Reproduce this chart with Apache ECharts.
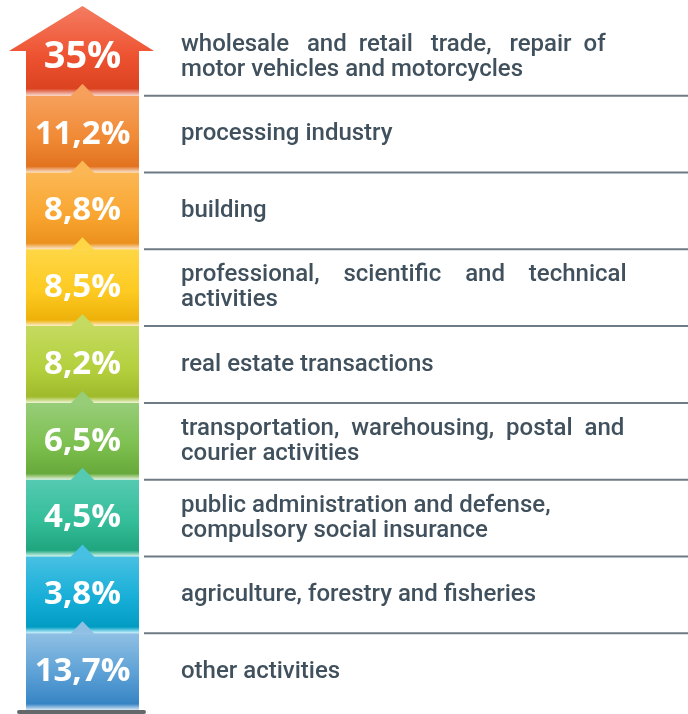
<!DOCTYPE html>
<html>
<head>
<meta charset="utf-8">
<script src="https://cdn.jsdelivr.net/npm/echarts@6/dist/echarts.min.js"></script>
<style>
  html, body { margin: 0; padding: 0; background: #fff; }
  #chart { width: 688px; height: 714px; }
</style>
</head>
<body>
<div id="chart"></div>
<script>
// sectors, top to bottom
const categories = [
  'wholesale and retail trade, repair of\nmotor vehicles and motorcycles',
  'processing industry',
  'building',
  'professional, scientific and technical\nactivities',
  'real estate transactions',
  'transportation, warehousing, postal and\ncourier activities',
  'public administration and defense,\ncompulsory social insurance',
  'agriculture, forestry and fisheries',
  'other activities'
]
const shares = [35, 11.2, 8.8, 8.5, 8.2, 6.5, 4.5, 3.8, 13.7]

// colours per block: [top, middle, bottom]
const palette = [
  ['#f47c62', '#ee5331', '#db4320'],
  ['#f6a05c', '#f08a35', '#e2731f'],
  ['#fbb754', '#f9a631', '#eb911d'],
  ['#fed646', '#fdca21', '#eeb10a'],
  ['#c4da60', '#b4d03d', '#9fbb2c'],
  ['#97cd79', '#7dc04f', '#67a93a'],
  ['#55cab2', '#33bd98', '#20a57e'],
  ['#48c0e3', '#16aed7', '#029cc3'],
  ['#8fc0e4', '#5a9fd5', '#3784c4']
]
// width the first line gets stretched to (justified text), null = left aligned
const justifyTo = [426, null, null, 446, null, 445, null, null, null]

const labelFont = '500 24px Roboto'
const colW = 113

// stretch a line by padding its word gaps with spaces
const measureCtx = document.createElement('canvas').getContext('2d')
function justify(text, target) {
  if (!target) return text
  const lines = text.split('\n')
  measureCtx.font = labelFont
  const words = lines[0].split(' ')
  const gaps = words.length - 1
  const spaceW = measureCtx.measureText(' ').width
  const extra = target - measureCtx.measureText(lines[0]).width
  if (gaps < 1 || extra <= 0) return text
  let acc = 0
  let out = words[0]
  for (let i = 1; i < words.length; i++) {
    const want = Math.round((extra * i) / gaps / spaceW)
    out += ' '.repeat(1 + want - acc) + words[i]
    acc = want
  }
  lines[0] = out
  return lines.join('\n')
}

const chart = echarts.init(document.getElementById('chart'))

function gradient(c) {
  return new echarts.graphic.LinearGradient(0, 0, 0, 1, [
    { offset: 0, color: c[0] },
    { offset: 0.55, color: c[1] },
    { offset: 0.92, color: c[2] },
    { offset: 1, color: echarts.color.modifyHSL(c[2], null, null, 0.9) }
  ])
}

function renderItem(params, api) {
  const idx = api.value(0)
  const pt = api.coord([0, idx])
  const bandH = api.size([0, 1])[1]
  const x0 = pt[0]
  const top = pt[1] - bandH / 2
  const bottom = pt[1] + bandH / 2
  const cx = x0 + colW / 2
  const c = palette[idx]
  const children = []

  if (idx === 0) {
    // arrow head on the first block
    const shoulder = top + 32
    children.push({
      type: 'polygon',
      shape: {
        points: [
          [cx, top - 13], [x0 + colW + 15, shoulder], [x0 + colW, shoulder],
          [x0 + colW, bottom], [x0, bottom], [x0, shoulder], [x0 - 17, shoulder]
        ]
      },
      style: { fill: gradient(c) }
    })
  } else {
    children.push({
      type: 'rect',
      shape: { x: x0, y: top, width: colW, height: bandH },
      style: { fill: gradient(c) }
    })
    // little notch pointing up into the block above
    children.push({
      type: 'polygon',
      shape: { points: [[cx - 12, top + 0.5], [cx, top - 12], [cx + 12, top + 0.5]] },
      style: { fill: c[0] }
    })
    // separator line
    children.push({
      type: 'line',
      shape: { x1: x0 + colW + 5, y1: top, x2: api.getWidth(), y2: top },
      style: { stroke: '#6f7b84', lineWidth: 2 }
    })
  }

  if (idx === shares.length - 1) {
    children.push({
      type: 'rect',
      shape: { x: x0 - 9, y: bottom, width: colW + 16, height: 4, r: 2 },
      style: { fill: '#65686b' }
    })
  }

  children.push({
    type: 'text',
    style: {
      x: cx,
      y: pt[1],
      text: String(shares[idx]).replace('.', ',') + '%',
      fill: '#fff',
      font: 'bold ' + (idx === 0 ? 38 : 33) + 'px "Open Sans"',
      align: 'center',
      verticalAlign: 'middle'
    }
  })

  return { type: 'group', children }
}

const option = {
  animation: false,
  grid: { left: 26, right: 0, top: 19, bottom: 4 },
  xAxis: { type: 'value', min: 0, max: 1, show: false },
  yAxis: {
    type: 'category',
    inverse: true,
    data: categories.map((t, i) => justify(t, justifyTo[i])),
    axisLine: { show: false },
    axisTick: { show: false },
    splitLine: { show: false },
    axisLabel: {
      inside: true,
      margin: 155,
      align: 'left',
      color: '#40515d',
      fontFamily: 'Roboto',
      fontWeight: 500,
      fontSize: 24,
      lineHeight: 25,
      padding: [4, 0, 0, 0]
    }
  },
  series: [
    {
      type: 'custom',
      clip: false,
      renderItem,
      data: shares.map((v, i) => [i, v]),
      encode: { y: 0 }
    }
  ]
}

chart.setOption(option)
</script>
</body>
</html>
